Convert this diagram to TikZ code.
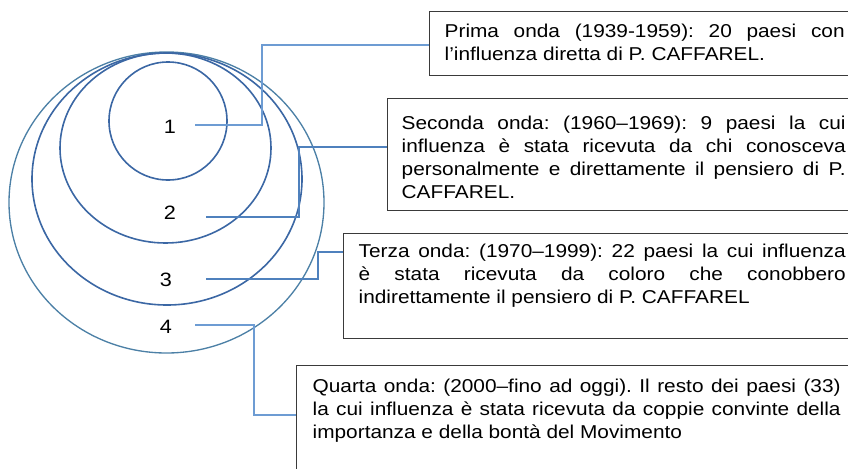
\documentclass[tikz,border=0pt]{standalone}
\usepackage{fontspec}
\setmainfont{Liberation Sans}[FakeStretch=1.12]
\frenchspacing
\newlength\pxu
\setlength\pxu{0.75pt}
\definecolor{ringblue}{HTML}{3B67A4}
\definecolor{outerblue}{HTML}{4C80A6}
\definecolor{lightconn}{HTML}{6D9CD3}
\definecolor{darkconn}{HTML}{4F81BD}
\definecolor{boxline}{HTML}{3A3A3A}
\tikzset{
  ring/.style={draw=ringblue, line width=1.2pt},
  outerring/.style={draw=outerblue, line width=1pt},
  thinconn/.style={draw=lightconn, line width=0.8pt},
  thickconn/.style={draw=darkconn, line width=1.4pt},
  wavebox/.style={draw=boxline, line width=1pt, anchor=north west, inner ysep=0pt,
    align=justify, font=\fontsize{13.95pt}{17.25pt}\selectfont\frenchspacing},
  numlabel/.style={font=\fontsize{14.5pt}{17pt}\selectfont, inner sep=0pt}
}
\begin{document}
\begin{tikzpicture}[x=0.75pt, y=-0.75pt]
\useasboundingbox (0,0) rectangle (848,468);
\hyphenpenalty=10000 \exhyphenpenalty=10000 \tolerance=10000
% rings
\draw[outerring] (166.5,202.5) ellipse [x radius=157.5, y radius=150.5];
\draw[ring] (167,179) ellipse [x radius=135, y radius=126];
\draw[ring] (165.5,148) ellipse [x radius=105.5, y radius=95];
\draw[ring] (168,121) circle [radius=59];
% labels
\node[numlabel] (l1) at (170,127) {1};
\node[numlabel] (l2) at (170,213) {2};
\node[numlabel] (l3) at (166,280) {3};
\node[numlabel] (l4) at (166,327) {4};
% boxes
\node[wavebox, inner xsep=15\pxu, text width=400\pxu] (b1) at (429,11)
 {\rule{0pt}{26\pxu}Prima onda (1939-1959): 20 paesi con\linebreak l’influenza diretta di P. CAFFAREL.\rule[-15\pxu]{0pt}{15\pxu}};
\node[wavebox, inner xsep=14\pxu, text width=444\pxu] (b2) at (387,98)
 {\rule{0pt}{31\pxu}Seconda onda: (1960–1969): 9 paesi la cui\linebreak influenza è stata ricevuta da chi conosceva\linebreak personalmente e direttamente il pensiero di P.\linebreak CAFFAREL.\rule[-12\pxu]{0pt}{12\pxu}};
\node[wavebox, inner xsep=15\pxu, text width=487\pxu] (b3) at (343,233)
 {\rule{0pt}{24\pxu}Terza onda: (1970–1999): 22 paesi la cui influenza\linebreak è stata ricevuta da coloro che conobbero\linebreak indirettamente il pensiero di P. CAFFAREL\rule[-35\pxu]{0pt}{35\pxu}};
\node[wavebox, inner xsep=16\pxu, text width=528\pxu] (b4) at (296,365)
 {\rule{0pt}{27\pxu}Quarta onda: (2000–fino ad oggi). Il resto dei paesi (33)\linebreak la cui influenza è stata ricevuta da coppie convinte della\linebreak importanza e della bontà del Movimento\rule[-60\pxu]{0pt}{60\pxu}};
% connector starts
\coordinate (s1) at (195,125);
\coordinate (s2) at (206,217);
\coordinate (s3) at (206,279);
\coordinate (s4) at (195,325);
% connectors
\draw[thinconn] (s1) -- ++(67,0) |- ([yshift=-25.5pt]b1.north west);
\draw[thickconn] (s2) -- ++(93,0) |- ([yshift=-36.75pt]b2.north west);
\draw[thickconn] (s3) -- ++(112,0) |- ([yshift=-14.25pt]b3.north west);
\draw[thinconn] (s4) -- ++(59,0) |- ([yshift=-37.5pt]b4.north west);
\end{tikzpicture}
\end{document}
